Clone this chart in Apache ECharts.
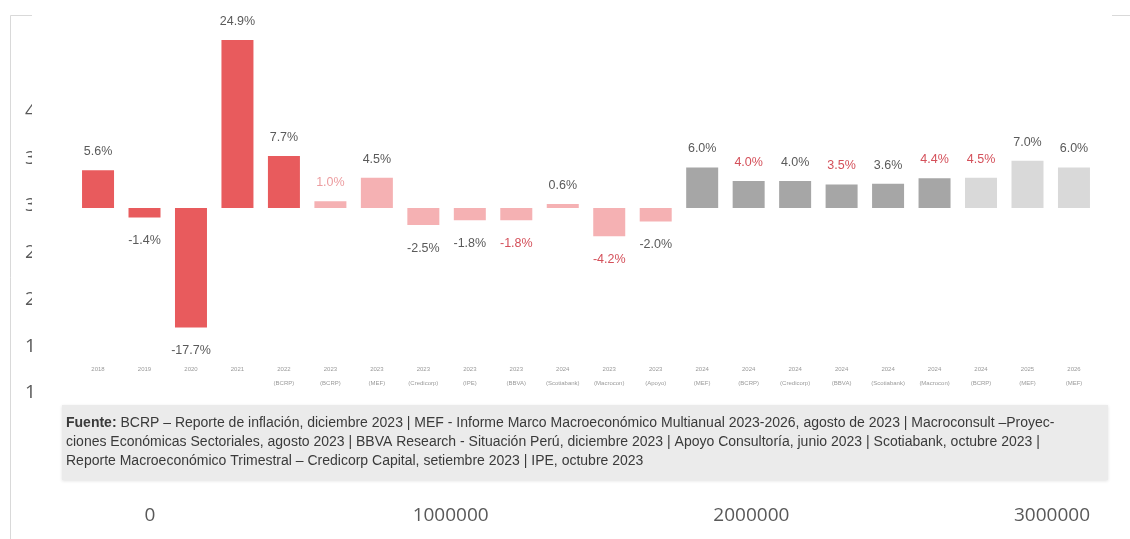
<!DOCTYPE html>
<html>
<head>
<meta charset="utf-8">
<script src="https://cdn.jsdelivr.net/npm/echarts@6/dist/echarts.min.js"></script>
<style>html,body{margin:0;padding:0;background:#fff;}#c{width:1130px;height:539px;}</style>
</head>
<body>
<div id="c"></div>
<script>
// ---- data ----
const categories = ['2018','2019','2020','2021','2022\n(BCRP)','2023\n(BCRP)','2023\n(MEF)','2023\n(Credicorp)','2023\n(IPE)','2023\n(BBVA)','2024\n(Scotiabank)','2023\n(Macrocon)','2023\n(Apoyo)','2024\n(MEF)','2024\n(BCRP)','2024\n(Credicorp)','2024\n(BBVA)','2024\n(Scotiabank)','2024\n(Macrocon)','2024\n(BCRP)','2025\n(MEF)','2026\n(MEF)'];
const values = [5.6,-1.4,-17.7,24.9,7.7,1.0,4.5,-2.5,-1.8,-1.8,0.6,-4.2,-2.0,6.0,4.0,4.0,3.5,3.6,4.4,4.5,7.0,6.0];
const groups = ['hist','hist','hist','hist','hist','f23','f23','f23','f23','f23','f23','f23','f23','f24','f24','f24','f24','f24','f24','f25','f25','f25'];
const outerYTicks = [0,500000,1000000,1500000,2000000,2500000,3000000,3500000,4000000];
const outerXTicks = [0,1000000,2000000,3000000];
const sourceLines = [
  'BCRP – Reporte de inflación, diciembre 2023 | MEF - Informe Marco Macroeconómico Multianual 2023-2026, agosto de 2023 | Macroconsult –Proyec-',
  'ciones Económicas Sectoriales, agosto 2023 | BBVA Research - Situación Perú, diciembre 2023 | Apoyo Consultoría, junio 2023 | Scotiabank, octubre 2023 |',
  'Reporte Macroeconómico Trimestral – Credicorp Capital, setiembre 2023 | IPE, octubre 2023'
];

// ---- styles ----
const groupColors = {hist:'#e85b5d', f23:'#f5b1b3', f24:'#a6a6a6', f25:'#d9d9d9'};
const redLabelIdx = [9,11,14,16,18,19];
const lightRedLabelIdx = [5];

const barData = values.map((v,i)=>{
  let lc = '#5a5a5a';
  if (redLabelIdx.includes(i)) lc = '#d4505a';
  if (lightRedLabelIdx.includes(i)) lc = '#ec9da0';
  return {
    value: v,
    itemStyle: {color: groupColors[groups[i]]},
    label: {color: lc, position: v >= 0 ? 'top' : 'bottom', distance: v >= 0 ? 12 : 17}
  };
});

const outerFont = '"Open Sans", sans-serif';
const txtFont = 'Arial, "Liberation Sans", sans-serif';
const plain = v => String(v);
const chart = echarts.init(document.getElementById('c'), null, {renderer:'canvas'});
chart.setOption({
  animation: false,
  backgroundColor: '#fff',
  grid: [
    {left: 74.8, right: 32.8, top: 19, bottom: 182.5},
    {left: 109, width: 10, top: 112, bottom: 52.3},
    {left: 150, right: 78, top: 300, bottom: 41}
  ],
  xAxis: [
    {type:'category', gridIndex:0, data: categories, zlevel:2,
     axisLine:{show:false}, axisTick:{show:false},
     axisLabel:{interval:0, fontSize:6, lineHeight:14, color:'#9a9a9a', margin:6, fontFamily:txtFont}},
    {type:'value', gridIndex:1, show:false, min:0, max:1},
    {type:'value', gridIndex:2, min:0, max:3000000, interval:1000000, zlevel:0,
     axisLine:{show:false}, axisTick:{show:false}, splitLine:{show:false},
     axisLabel:{fontSize:19, color:'#595959', fontFamily: outerFont, margin:8, showMaxLabel:true, formatter: plain}}
  ],
  yAxis: [
    {type:'value', gridIndex:0, min:-22, max:28, show:false, zlevel:2},
    {type:'value', gridIndex:1, min:0, max:4000000, interval:500000, zlevel:0,
     axisLine:{show:false}, axisTick:{show:false}, splitLine:{show:false},
     axisLabel:{fontSize:19, color:'#595959', fontFamily: outerFont, margin:8, formatter: plain}},
    {type:'value', gridIndex:2, show:false, min:0, max:1}
  ],
  series: [{
    type:'bar', xAxisIndex:0, yAxisIndex:0, zlevel:2,
    data: barData, barWidth: 32,
    label: {show:true, formatter: p => p.value.toFixed(1) + '%', fontSize:12.5, fontFamily:txtFont},
    markLine: {silent:true, symbol:'none', label:{show:false},
      lineStyle:{color:'#cfcfcf', width:2, type:'solid'},
      data:[{yAxis:0}]}
  }],
  graphic: [
    {type:'line', zlevel:0, z:1, shape:{x1:10.5,y1:15.5,x2:1130,y2:15.5}, style:{stroke:'#d9d9d9', lineWidth:1}},
    {type:'line', zlevel:0, z:1, shape:{x1:10.5,y1:15.5,x2:10.5,y2:539}, style:{stroke:'#d9d9d9', lineWidth:1}},
    {type:'rect', zlevel:1, z:1, shape:{x:32,y:0,width:1080,height:494}, style:{fill:'#ffffff'}},
    {type:'rect', zlevel:2, z:1, shape:{x:62,y:405,width:1046,height:75}, style:{fill:'#ebebeb', shadowBlur:3, shadowColor:'rgba(0,0,0,0.12)', shadowOffsetY:1}},
    {type:'text', zlevel:2, z:2, x:66, y:416, style:{rich:{b:{fontWeight:'bold', fontSize:14, fill:'#3a3a3a', fontFamily:txtFont}, n:{fontSize:14, fill:'#3a3a3a', fontFamily:txtFont}}, text:'{b|Fuente:}{n| ' + sourceLines[0] + '}'}},
    {type:'text', zlevel:2, z:2, x:66, y:435, style:{text: sourceLines[1], fontSize:14, fill:'#3a3a3a', fontFamily:txtFont}},
    {type:'text', zlevel:2, z:2, x:66, y:454, style:{text: sourceLines[2], fontSize:14, fill:'#3a3a3a', fontFamily:txtFont}}
  ]
});
</script>
</body>
</html>
